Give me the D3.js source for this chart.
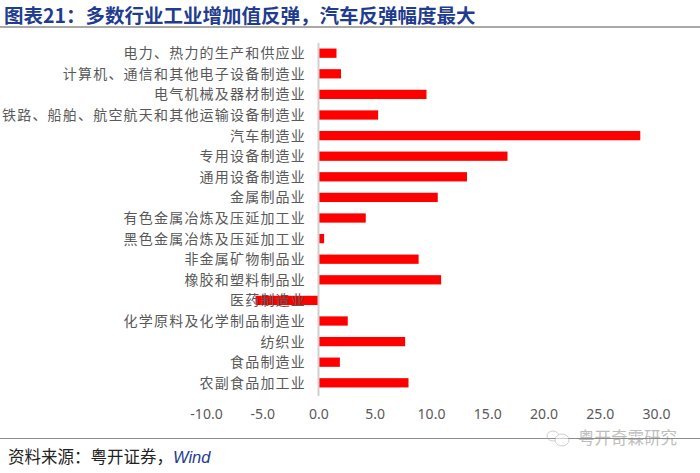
<!DOCTYPE html>
<html><head><meta charset="utf-8">
<script src="https://cdn.jsdelivr.net/npm/d3@7"></script>
<style>
html,body{margin:0;padding:0;background:#fff;}
svg{display:block;font-family:"Noto Sans CJK SC","Noto Sans",sans-serif;}
</style></head>
<body>
<svg id="c" width="700" height="473"></svg>
<script>
const categories = [
  "电力、热力的生产和供应业",
  "计算机、通信和其他电子设备制造业",
  "电气机械及器材制造业",
  "铁路、船舶、航空航天和其他运输设备制造业",
  "汽车制造业",
  "专用设备制造业",
  "通用设备制造业",
  "金属制品业",
  "有色金属冶炼及压延加工业",
  "黑色金属冶炼及压延加工业",
  "非金属矿物制品业",
  "橡胶和塑料制品业",
  "医药制造业",
  "化学原料及化学制品制造业",
  "纺织业",
  "食品制造业",
  "农副食品加工业"
];
const values = [1.6, 2.0, 9.6, 5.3, 28.6, 16.8, 13.2, 10.6, 4.2, 0.5, 8.9, 10.9, -5.6, 2.6, 7.7, 1.9, 8.0];
const xTicks = [-10, -5, 0, 5, 10, 15, 20, 25, 30];
const titleText = "图表21：多数行业工业增加值反弹，汽车反弹幅度最大";
const sourceText = "资料来源：粤开证券，";
const sourceWind = "Wind";
const watermark = "粤开奇霖研究";

const svg = d3.select("#c");

// title
svg.append("text").attr("x", 4).attr("y", 22.5)
  .attr("font-size", 19.5).attr("font-weight", "bold").attr("fill", "#1f3c8f")
  .text(titleText);
svg.append("line").attr("x1", 0).attr("x2", 700).attr("y1", 27).attr("y2", 27)
  .attr("stroke", "#8c8c8c").attr("stroke-width", 1.5);

const x = d3.scaleLinear().domain([-10, 30]).range([206, 656]);
const y = d3.scaleBand().domain(categories).range([43, 393]).paddingInner(0.55).paddingOuter(0.27);

// bars
svg.append("g").selectAll("rect").data(values).join("rect")
  .attr("x", d => x(Math.min(0, d)))
  .attr("width", d => Math.abs(x(d) - x(0)))
  .attr("y", (d, i) => y(categories[i]))
  .attr("height", y.bandwidth())
  .attr("fill", "#ff0000");

// zero axis line
svg.append("line").attr("x1", x(0)).attr("x2", x(0)).attr("y1", 43).attr("y2", 396)
  .attr("stroke", "#d0d0d0").attr("stroke-width", 2);

// category labels
svg.append("g").selectAll("text").data(categories).join("text")
  .attr("x", 306)
  .attr("y", d => y(d) + y.bandwidth() / 2)
  .attr("dy", "0.36em")
  .attr("text-anchor", "end")
  .attr("font-size", 14)
  .attr("letter-spacing", 1.2)
  .attr("fill", "#595959")
  .text(d => d);

// x axis labels
const xAxis = d3.axisBottom(x).tickValues(xTicks).tickSize(0).tickPadding(0)
  .tickFormat(d => d.toFixed(1));
const gx = svg.append("g").attr("transform", "translate(0,409)").call(xAxis);
gx.select(".domain").remove();
gx.selectAll("text").attr("font-size", 14).attr("fill", "#595959")
  .attr("font-family", "'Noto Sans','DejaVu Sans',sans-serif");

// footer
svg.append("line").attr("x1", 0).attr("x2", 700).attr("y1", 438.5).attr("y2", 438.5)
  .attr("stroke", "#8c8c8c").attr("stroke-width", 1);
const src = svg.append("text").attr("x", 8).attr("y", 463).attr("font-size", 16.5).attr("fill", "#222");
src.append("tspan").text(sourceText);
src.append("tspan").attr("font-style", "italic").attr("fill", "#1f3c8f")
  .attr("font-family", "'Liberation Sans','Noto Sans',sans-serif").text(sourceWind);

// watermark
const wm = svg.append("g").attr("opacity", 0.55);
wm.append("ellipse").attr("cx", 553).attr("cy", 436).attr("rx", 6).attr("ry", 5)
  .attr("fill", "none").attr("stroke", "#aaa");
wm.append("ellipse").attr("cx", 562).attr("cy", 440).attr("rx", 7).attr("ry", 6)
  .attr("fill", "#fff").attr("stroke", "#aaa");
wm.append("text").attr("x", 578).attr("y", 444).attr("font-size", 16.5).attr("fill", "#888")
  .text(watermark);
</script>
</body></html>
